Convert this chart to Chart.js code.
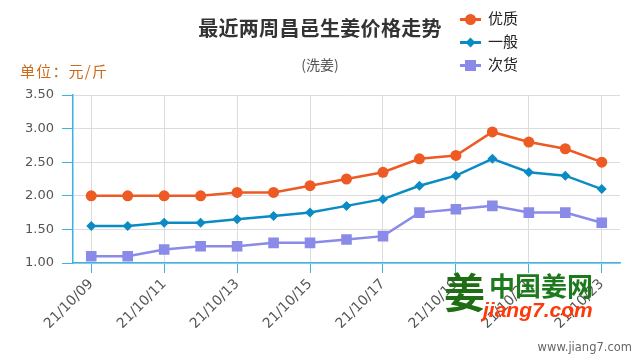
<!DOCTYPE html>
<html><head><meta charset="utf-8">
<script src="https://cdn.jsdelivr.net/npm/chart.js@4/dist/chart.umd.min.js"></script>
<style>
html,body{margin:0;padding:0;background:#fff;}
#wrap{position:relative;width:640px;height:360px;overflow:hidden;font-family:"Noto Sans CJK SC","Noto Sans",sans-serif;}
canvas{position:absolute;left:0;top:0;}
.t{position:absolute;white-space:nowrap;line-height:1;}
#title{left:0;width:640px;text-align:center;top:18px;font-size:20px;font-weight:bold;color:#333;letter-spacing:0.3px;}
#sub{left:0;width:640px;text-align:center;top:57px;font-size:14px;color:#555;}
#unit{left:20px;top:63px;font-size:15px;color:#cc6a1c;letter-spacing:1.2px;}
.lg{position:absolute;left:460px;height:20px;width:80px;}
.lg .ln{position:absolute;left:0;top:9px;width:21px;height:3px;}
.lg .mk{position:absolute;}
.lg .tx{position:absolute;left:28px;top:1px;font-size:15px;color:#222;line-height:1;}
#wm{position:absolute;left:440px;top:266px;width:180px;height:60px;}
#wm .ic{position:absolute;left:4px;top:4px;font-size:41px;font-weight:bold;color:#1f6e14;line-height:1;}
#wm .cn{position:absolute;left:49px;top:6px;font-size:26px;font-weight:bold;color:#1c7a1c;line-height:1;}
#wm .en{position:absolute;left:43px;top:33px;font-size:21px;font-weight:bold;font-style:italic;color:#ff3a0a;font-family:"Liberation Sans",Arial,sans-serif;line-height:1;}
#site{right:8px;top:342px;font-size:11.5px;color:#666;font-family:"DejaVu Sans",sans-serif;}
</style></head><body>
<div id="wrap">
<canvas id="c" width="640" height="360"></canvas>
<div class="t" id="title">最近两周昌邑生姜价格走势</div>
<div class="t" id="sub">(洗姜)</div>
<div class="t" id="unit">单位：元/斤</div>
<div class="lg" style="top:9px"><div class="ln" style="background:#ee5a24"></div><div class="mk" style="left:5px;top:5px;width:11px;height:11px;border-radius:50%;background:#ee5a24"></div><div class="tx">优质</div></div>
<div class="lg" style="top:32px"><div class="ln" style="background:#0b8bc4"></div><div class="mk" style="left:7px;top:7px;width:7px;height:7px;transform:rotate(45deg);background:#0b8bc4"></div><div class="tx">一般</div></div>
<div class="lg" style="top:55px"><div class="ln" style="background:#8a8ae8"></div><div class="mk" style="left:5px;top:5px;width:11px;height:11px;background:#8a8ae8"></div><div class="tx">次货</div></div>
<div id="wm"><div class="ic">姜</div><div class="cn">中国姜网</div><div class="en">jiang7.com</div></div>
<div class="t" id="site">www.jiang7.com</div>
</div>
<script>
const categories = ["21/10/09","21/10/10","21/10/11","21/10/12","21/10/13","21/10/14","21/10/15","21/10/16","21/10/17","21/10/18","21/10/19","21/10/20","21/10/21","21/10/22","21/10/23"];
const youzhi = [2.00,2.00,2.00,2.00,2.05,2.05,2.15,2.25,2.35,2.55,2.60,2.95,2.80,2.70,2.50];
const yiban  = [1.55,1.55,1.60,1.60,1.65,1.70,1.75,1.85,1.95,2.15,2.30,2.55,2.35,2.30,2.10];
const cihuo  = [1.10,1.10,1.20,1.25,1.25,1.30,1.30,1.35,1.40,1.75,1.80,1.85,1.75,1.75,1.60];
const seriesNames = ["优质","一般","次货"];
const yMin = 1.0, yMax = 3.5, yStep = 0.5;

const axisBlue = '#3bb3e3';
const gridGray = '#dcdcdc';

new Chart(document.getElementById('c'), {
  type:'line',
  data:{
    labels:categories,
    datasets:[
      {label:seriesNames[0],data:youzhi,borderColor:'#ee5a24',backgroundColor:'#ee5a24',pointStyle:'circle',pointRadius:5.5,pointHoverRadius:5.5,borderWidth:2.5,pointBorderWidth:0,tension:0},
      {label:seriesNames[1],data:yiban,borderColor:'#0b8bc4',backgroundColor:'#0b8bc4',pointStyle:'rectRot',pointRadius:5,pointHoverRadius:5,borderWidth:2.5,pointBorderWidth:0,tension:0},
      {label:seriesNames[2],data:cihuo,borderColor:'#8a8ae8',backgroundColor:'#8a8ae8',pointStyle:'rect',pointRadius:7.5,pointHoverRadius:7.5,borderWidth:2.5,pointBorderWidth:0,tension:0}
    ]
  },
  options:{
    responsive:false,
    animation:false,
    layout:{padding:{top:95,right:20,left:0,bottom:0}},
    plugins:{legend:{display:false},title:{display:false},tooltip:{enabled:false}},
    scales:{
      x:{
        offset:true,
        grid:{color:gridGray,lineWidth:1,tickColor:axisBlue,tickLength:10,drawTicks:true},
        border:{color:axisBlue,width:1.5},
        ticks:{
          autoSkip:false,minRotation:45,maxRotation:45,color:'#555',font:{family:'"DejaVu Sans", sans-serif',size:14},padding:3,
          callback:function(v,i){return i%2===0?this.getLabelForValue(v):null;}
        },
        afterFit:function(s){s.height=97;}
      },
      y:{
        min:yMin,max:yMax,
        grid:{color:gridGray,lineWidth:1,tickColor:axisBlue,tickLength:11},
        border:{color:axisBlue,width:1.5},
        ticks:{stepSize:yStep,color:'#555',font:{family:'"DejaVu Sans", sans-serif',size:13},padding:8,callback:function(v){return v.toFixed(2);}},
        afterFit:function(s){s.width=73;}
      }
    }
  }
});
</script>
</body></html>
